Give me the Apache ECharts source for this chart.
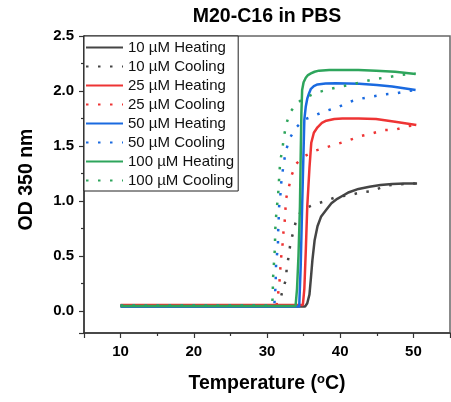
<!DOCTYPE html>
<html>
<head>
<meta charset="utf-8">
<script src="https://cdn.jsdelivr.net/npm/echarts@6/dist/echarts.min.js"></script>
<style>html,body{margin:0;padding:0;background:#fff;}#c{width:451px;height:402px;}</style>
</head>
<body>
<div id="c"></div>
<script>
var titleText = 'M20-C16 in PBS';
var seriesNames = ['10 µM Heating','10 µM Cooling','25 µM Heating','25 µM Cooling','50 µM Heating','50 µM Cooling','100 µM Heating','100 µM Cooling'];

var heat10T = [10, 35.2, 35.5, 35.8, 36.0, 36.2, 36.5, 36.9, 37.4, 38.1, 38.8, 39.6, 40.4, 41.2, 42.5, 44, 45.5, 47.1, 48.8, 50.5];
var heat10OD = [0.04, 0.04, 0.07, 0.15, 0.3, 0.46, 0.64, 0.77, 0.86, 0.92, 0.98, 1.02, 1.05, 1.08, 1.11, 1.13, 1.145, 1.155, 1.16, 1.16];

var cool10T = [10, 31.0, 31.5, 31.7, 32.1, 32.6, 32.7, 33.0, 33.2, 33.6, 34.0, 34.5, 35.1, 36.5, 38.0, 39.6, 41.1, 42.9, 44.4, 46.2, 47.5, 49.2, 50.3];
var cool10OD = [0.05, 0.05, 0.05, 0.07, 0.18, 0.29, 0.4, 0.51, 0.62, 0.72, 0.83, 0.89, 0.93, 0.97, 1.0, 1.04, 1.05, 1.08, 1.09, 1.14, 1.15, 1.155, 1.16];

var heat25T = [10, 34.9, 35.1, 35.3, 35.5, 35.8, 36.05, 36.4, 36.9, 37.5, 38.1, 39.2, 40.3, 42.5, 44.9, 47.5, 50.4];
var heat25OD = [0.055, 0.055, 0.2, 0.55, 0.95, 1.3, 1.53, 1.62, 1.67, 1.71, 1.73, 1.745, 1.75, 1.75, 1.745, 1.72, 1.69];

var cool25T = [10, 31.3, 31.5, 31.7, 31.8, 31.9, 32.1, 32.2, 32.4, 32.5, 32.6, 33.0, 33.4, 34.0, 35.2, 36.7, 38.2, 39.7, 41.3, 42.8, 44.4, 46.0, 47.6, 49.2, 50.3];
var cool25OD = [0.05, 0.05, 0.145, 0.26, 0.36, 0.47, 0.58, 0.69, 0.8, 0.9, 1.02, 1.13, 1.24, 1.34, 1.41, 1.46, 1.49, 1.52, 1.555, 1.59, 1.615, 1.645, 1.65, 1.68, 1.69];

var heat50T = [10, 34.4, 34.6, 34.8, 35.1, 35.3, 35.5, 35.75, 36.0, 36.4, 36.9, 38, 39.4, 41, 42.6, 45, 47.1, 50.3];
var heat50OD = [0.04, 0.04, 0.4, 0.95, 1.74, 1.86, 1.93, 1.98, 2.02, 2.045, 2.06, 2.068, 2.07, 2.068, 2.065, 2.055, 2.04, 2.01];

var cool50T = [10, 31.0, 31.1, 31.2, 31.2, 31.3, 31.5, 31.5, 31.6, 31.6, 31.8, 31.9, 32.1, 32.3, 32.6, 33.1, 34.0, 35.1, 36.6, 38.1, 39.6, 41.2, 42.8, 44.4, 46.0, 47.7, 49.3, 50.3];
var cool50OD = [0.05, 0.05, 0.16, 0.26, 0.37, 0.48, 0.58, 0.7, 0.81, 0.92, 1.02, 1.14, 1.25, 1.35, 1.46, 1.57, 1.67, 1.74, 1.78, 1.82, 1.85, 1.9, 1.93, 1.95, 1.97, 1.98, 2.0, 2.01];

var heat100T = [10, 33.9, 34.1, 34.3, 34.5, 34.6, 34.7, 34.8, 35.0, 35.3, 35.6, 36.0, 36.5, 37.1, 38.5, 40.3, 42.5, 44.9, 47.5, 50.3];
var heat100OD = [0.045, 0.045, 0.2, 0.5, 0.95, 1.4, 1.8, 2.01, 2.08, 2.12, 2.145, 2.16, 2.175, 2.185, 2.19, 2.19, 2.19, 2.185, 2.175, 2.155];

var cool100T = [10, 30.7, 30.8, 30.8, 30.9, 31.0, 31.1, 31.1, 31.2, 31.3, 31.5, 31.6, 31.7, 31.8, 32.1, 32.3, 32.6, 33.1, 34.1, 35.2, 36.8, 38.4, 40.0, 41.6, 43.2, 44.9, 46.5, 48.1, 49.6, 50.3];
var cool100OD = [0.05, 0.05, 0.16, 0.27, 0.38, 0.49, 0.59, 0.71, 0.81, 0.92, 1.03, 1.15, 1.25, 1.36, 1.47, 1.58, 1.69, 1.8, 1.89, 1.94, 1.985, 2.015, 2.04, 2.06, 2.085, 2.11, 2.125, 2.145, 2.155, 2.16];

var colors = ['#454545', '#454545', '#ee3434', '#ee3434', '#1a6ae0', '#1a6ae0', '#2ea55c', '#2ea55c'];

function pairs(t, v) { return t.map(function (x, i) { return [x, v[i]]; }); }
var dataSets = [
  pairs(heat10T, heat10OD), pairs(cool10T, cool10OD),
  pairs(heat25T, heat25OD), pairs(cool25T, cool25OD),
  pairs(heat50T, heat50OD), pairs(cool50T, cool50OD),
  pairs(heat100T, heat100OD), pairs(cool100T, cool100OD)
];

var FONT = '"Liberation Sans", Arial, sans-serif';

var series = dataSets.map(function (d, i) {
  var cooling = (i % 2 === 1);
  return {
    name: seriesNames[i],
    type: 'line',
    data: d,
    symbol: 'none',
    smooth: false,
    animation: false,
    color: colors[i],
    lineStyle: cooling ? { width: 2.5, type: [2.5, 9.5], cap: 'butt', color: colors[i] }
                       : { width: 2.5, type: 'solid', color: colors[i] },
    z: 2
  };
});

var chart = echarts.init(document.getElementById('c'), null, { renderer: 'canvas' });
chart.setOption({
  animation: false,
  backgroundColor: '#fff',
  title: {
    text: titleText,
    left: 262, top: 2,
    textAlign: 'center',
    textStyle: { fontFamily: FONT, fontWeight: 'bold', fontSize: 19.5, color: '#000' }
  },
  grid: { left: 84, right: 1, top: 36, bottom: 69, show: true, borderColor: '#666', borderWidth: 1.5, backgroundColor: 'transparent' },
  legend: {
    orient: 'vertical',
    left: 84, top: 36,
    padding: [4, 4, 3, 1],
    itemWidth: 37, itemHeight: 15, itemGap: 4,
    borderColor: '#222', borderWidth: 1,
    backgroundColor: '#fff',
    itemStyle: { opacity: 0 },
    textStyle: { fontFamily: FONT, fontSize: 15, color: '#111', lineHeight: 15 },
    data: seriesNames
  },
  xAxis: {
    type: 'value', min: 5, max: 55, splitNumber: 5,
    name: '{n|Temperature (}{s|o}{n|C)}',
    nameLocation: 'middle', nameGap: 40,
    nameTextStyle: {
      fontFamily: FONT, fontWeight: 'bold', fontSize: 19.5, color: '#000',
      rich: {
        n: { fontFamily: FONT, fontWeight: 'bold', fontSize: 19.5, color: '#000' },
        s: { fontFamily: FONT, fontWeight: 'bold', fontSize: 13, color: '#000', verticalAlign: 'top', padding: [0, 0, 8, 0] }
      }
    },
    axisLine: { show: true, onZero: false, lineStyle: { color: '#333', width: 1.5 } },
    axisTick: { show: true, inside: false, length: 5, lineStyle: { color: '#333', width: 1.2 } },
    minorTick: { show: true, splitNumber: 2, length: 3, lineStyle: { color: '#333', width: 1.2 } },
    axisLabel: { showMinLabel: false, showMaxLabel: false, margin: 11, fontFamily: FONT, fontWeight: 'bold', fontSize: 15, color: '#000' },
    splitLine: { show: false }
  },
  yAxis: {
    type: 'value', min: -0.2, max: 2.5, splitNumber: 5,
    name: 'OD 350 nm',
    nameLocation: 'middle', nameGap: 47,
    nameTextStyle: { fontFamily: FONT, fontWeight: 'bold', fontSize: 19.5, color: '#000', padding: [0, 0, 0, 10] },
    axisLine: { show: true, onZero: false, lineStyle: { color: '#333', width: 1.5 } },
    axisTick: { show: true, inside: false, length: 5, lineStyle: { color: '#333', width: 1.2 } },
    minorTick: { show: true, splitNumber: 2, length: 3, lineStyle: { color: '#333', width: 1.2 } },
    axisLabel: {
      showMinLabel: false, margin: 10, fontFamily: FONT, fontWeight: 'bold', fontSize: 15, color: '#000',
      formatter: function (v) { return v.toFixed(1); }
    },
    splitLine: { show: false }
  },
  series: series
});
</script>
</body>
</html>
